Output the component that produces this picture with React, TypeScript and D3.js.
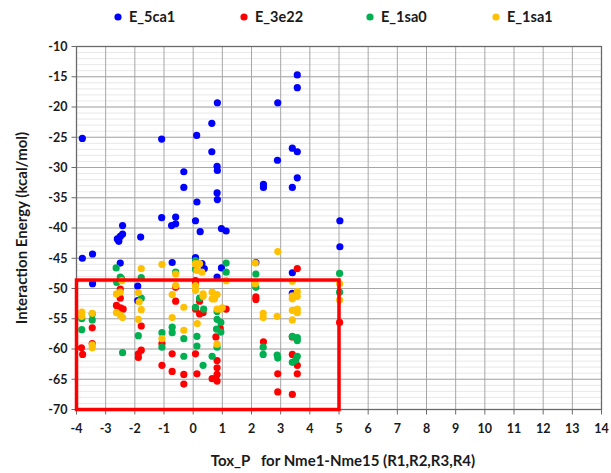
import React from "react";
import * as d3 from "d3";

// series: [Tox_P, interaction energy]
const e5ca1: [number, number][] = [
  [-3.8, -25.2], [-3.8, -45.0], [-3.45, -44.3], [-3.45, -49.2],
  [-2.6, -41.8], [-2.55, -42.2], [-2.5, -41.4], [-2.42, -41.0], [-2.42, -39.6], [-2.5, -45.8],
  [-1.8, -41.5], [-1.9, -49.6], [-1.9, -52.0],
  [-1.08, -25.3], [-1.08, -38.3], [-0.74, -39.6], [-0.6, -39.3], [-0.6, -38.2], [-0.72, -45.7],
  [-0.32, -30.7], [-0.32, -33.3],
  [0.08, -38.8], [0.12, -24.7], [0.13, -35.7], [0.24, -40.6], [0.08, -44.9], [0.1, -45.6], [0.3, -45.9], [0.38, -46.7],
  [0.64, -22.7], [0.64, -27.4], [0.83, -19.3], [0.82, -29.8], [0.83, -30.5], [0.82, -34.2], [0.83, -35.3], [0.82, -48.1],
  [0.97, -40.1], [1.13, -40.5], [0.97, -46.6],
  [2.15, -45.7], [2.41, -32.8], [2.41, -33.3], [2.9, -19.3], [2.89, -28.8],
  [3.4, -26.8], [3.4, -33.3], [3.4, -47.4], [3.4, -50.8], [3.57, -14.7], [3.57, -16.8], [3.57, -27.4], [3.57, -31.7],
  [5.03, -38.8], [5.03, -43.1],
];

const e3e22: [number, number][] = [
  [-3.83, -59.8], [-3.79, -60.9], [-3.46, -56.5], [-3.46, -59.1],
  [-2.63, -52.8], [-2.49, -53.2], [-2.4, -53.4], [-2.5, -50.1], [-2.5, -51.6],
  [-1.78, -56.2], [-1.78, -60.2], [-1.88, -60.8], [-1.88, -61.4],
  [-1.07, -59.1], [-1.07, -62.7], [-0.72, -60.8], [-0.72, -63.7], [-0.6, -49.8], [-0.6, -52.1], [-0.32, -64.2], [-0.32, -65.8],
  [0.08, -48.7], [0.08, -49.3], [0.08, -53.4], [0.08, -60.8], [0.13, -64.1], [0.22, -52.1], [0.22, -54.2], [0.34, -54.0],
  [0.65, -64.9], [0.82, -61.9], [0.82, -63.1], [0.82, -64.2], [0.82, -65.3], [0.78, -58.0], [0.93, -56.6], [1.13, -53.4],
  [2.15, -51.4], [2.15, -51.8], [2.41, -58.8], [2.9, -64.1], [2.9, -67.1],
  [3.4, -58.0], [3.4, -60.9], [3.4, -67.5], [3.57, -46.7], [3.57, -62.7], [3.57, -64.1],
  [5.02, -55.6],
];

const e1sa0: [number, number][] = [
  [-3.82, -55.0], [-3.82, -56.8], [-3.46, -54.2], [-3.46, -55.2],
  [-2.64, -46.6], [-2.5, -48.1], [-2.62, -49.0], [-2.45, -48.4], [-2.42, -60.6],
  [-1.78, -48.2], [-1.78, -51.6], [-1.88, -57.8],
  [-1.07, -57.3], [-1.07, -59.7], [-0.72, -56.4], [-0.72, -57.3], [-0.6, -47.3], [-0.32, -58.3], [-0.32, -61.2],
  [0.08, -45.4], [0.08, -46.8], [0.08, -53.1], [0.22, -51.6], [0.36, -53.4], [0.13, -57.9], [0.13, -59.5], [0.34, -62.7],
  [0.65, -61.2], [0.82, -53.8], [0.82, -55.1], [0.95, -55.6], [0.8, -56.7], [0.95, -57.2], [0.82, -59.7],
  [1.13, -45.8], [1.13, -47.3],
  [2.15, -47.6], [2.15, -49.8], [2.4, -59.7], [2.4, -60.9], [2.88, -61.0], [2.9, -61.5],
  [3.4, -57.9], [3.57, -58.1], [3.57, -58.6], [3.4, -62.2], [3.57, -61.2], [3.52, -61.8],
  [5.02, -47.5], [5.02, -50.6],
];

const e1sa1: [number, number][] = [
  [-3.82, -53.9], [-3.82, -54.6], [-3.46, -54.1], [-3.46, -59.3], [-3.46, -59.8],
  [-2.63, -50.9], [-2.5, -50.6], [-2.63, -54.0], [-2.5, -54.4], [-2.42, -54.8], [-2.45, -48.7],
  [-1.78, -46.7], [-1.88, -50.7], [-1.85, -52.2], [-1.78, -53.5], [-1.88, -55.1],
  [-1.07, -46.0], [-1.07, -58.3], [-0.6, -47.6], [-0.6, -49.5], [-0.72, -51.0], [-0.72, -54.8], [-0.32, -53.1], [-0.32, -56.9],
  [0.08, -45.9], [0.22, -45.9], [0.13, -47.0], [0.3, -47.3], [0.08, -49.5], [0.08, -50.3], [0.34, -50.9], [0.34, -51.3],
  [0.65, -50.6], [0.73, -51.7], [0.82, -51.0], [0.65, -51.7], [0.82, -53.4], [0.93, -53.4], [1.0, -53.2], [0.14, -55.8], [0.82, -59.2], [1.13, -48.7],
  [2.13, -45.8], [2.13, -49.2], [2.4, -54.1], [2.4, -54.8], [2.9, -43.9], [2.88, -54.6],
  [3.4, -48.8], [3.4, -51.2], [3.4, -51.7], [3.57, -50.5], [3.57, -51.3], [3.4, -53.6], [3.4, -55.2], [3.57, -53.4], [3.57, -54.0],
  [5.02, -49.2], [5.02, -51.9],
];

const seriesNames = ["E_5ca1", "E_3e22", "E_1sa0", "E_1sa1"];
const seriesColors = ["#0000ff", "#ff0000", "#00b050", "#ffc000"];
const seriesData = [e5ca1, e3e22, e1sa0, e1sa1];

const xTicks = d3.range(-4, 15, 1);
const yTicks = d3.range(-70, -5, 5);
const yMinor = d3.range(-70, -9, 1);
// highlighted region [x0, x1, y0, y1]
const boxRegion = [-4, 5, -70, -48.6];

const W = 611;
const H = 473;
const FONT = "Lato, 'Open Sans', sans-serif";

export default function App() {
  const x = d3.scaleLinear().domain([-4, 14]).range([76.5, 601.5]);
  const y = d3.scaleLinear().domain([-70, -10]).range([409.5, 46.5]);

  const [bx0, bx1, by0, by1] = boxRegion;

  return (
    <div style={{ position: "absolute", left: 0, top: 0, background: "#fff" }}>
      <svg width={W} height={H} style={{ display: "block" }} fontFamily={FONT}>
        <rect width={W} height={H} fill="#fff" />

        {/* minor horizontal grid */}
        {yMinor.map((v) => (
          <line key={"m" + v} x1={x(-4)} x2={x(14)} y1={y(v)} y2={y(v)} stroke="#e8e8e8" strokeWidth={1} />
        ))}
        {/* major grid */}
        {yTicks.map((v) => (
          <line key={"gy" + v} x1={x(-4)} x2={x(14)} y1={y(v)} y2={y(v)} stroke="#a6a6a6" strokeWidth={1} />
        ))}
        {xTicks.map((v) => (
          <line key={"gx" + v} x1={x(v)} x2={x(v)} y1={y(-70)} y2={y(-10)} stroke="#a6a6a6" strokeWidth={1} />
        ))}

        {/* plot border */}
        <rect x={x(-4)} y={y(-10)} width={x(14) - x(-4)} height={y(-70) - y(-10)} fill="none" stroke="#6a6a6a" strokeWidth={1.3} />

        {/* ticks */}
        {yTicks.map((v) => (
          <g key={"ty" + v}>
            <line x1={x(-4) - 5} x2={x(-4)} y1={y(v)} y2={y(v)} stroke="#6a6a6a" />
            <text x={x(-4) - 9} y={y(v)} dy="0.35em" textAnchor="end" fontSize={12.5} fontWeight={700} fill="#1a1a1a">
              {v}
            </text>
          </g>
        ))}
        {xTicks.map((v) => (
          <g key={"tx" + v}>
            <line x1={x(v)} x2={x(v)} y1={y(-70)} y2={y(-70) + 5} stroke="#6a6a6a" />
            <text x={x(v)} y={y(-70) + 23} textAnchor="middle" fontSize={12.5} fontWeight={700} fill="#1a1a1a">
              {v}
            </text>
          </g>
        ))}

        {/* points */}
        {seriesData.map((pts, i) => (
          <g key={seriesNames[i]} fill={seriesColors[i]}>
            {pts.map((d, j) => (
              <circle key={j} cx={x(d[0])} cy={y(d[1])} r={3.6} />
            ))}
          </g>
        ))}

        {/* highlighted region */}
        <rect
          x={x(bx0)}
          y={y(by1)}
          width={x(bx1) - x(bx0)}
          height={y(by0) - y(by1)}
          fill="none"
          stroke="#ff0000"
          strokeWidth={3.5}
        />

        {/* legend */}
        {seriesNames.map((n, i) => {
          const lx = 118 + i * 126;
          return (
            <g key={"lg" + n}>
              <circle cx={lx} cy={17} r={3.6} fill={seriesColors[i]} />
              <text x={lx + 11} y={17} dy="0.35em" fontSize={14.5} fontWeight={700} fill="#1a1a1a">
                {n}
              </text>
            </g>
          );
        })}

        {/* axis titles */}
        <text
          transform={`translate(22,${(y(-10) + y(-70)) / 2}) rotate(-90)`}
          textAnchor="middle"
          dy="0.35em"
          fontSize={15}
          fontWeight={700}
          fill="#1a1a1a"
        >
          Interaction Energy (kcal/mol)
        </text>
        <text x={343} y={461} dy="0.35em" textAnchor="middle" fontSize={15} fontWeight={700} fill="#1a1a1a" xmlSpace="preserve">
          {"Tox_P   for Nme1-Nme15 (R1,R2,R3,R4)"}
        </text>
      </svg>
    </div>
  );
}
